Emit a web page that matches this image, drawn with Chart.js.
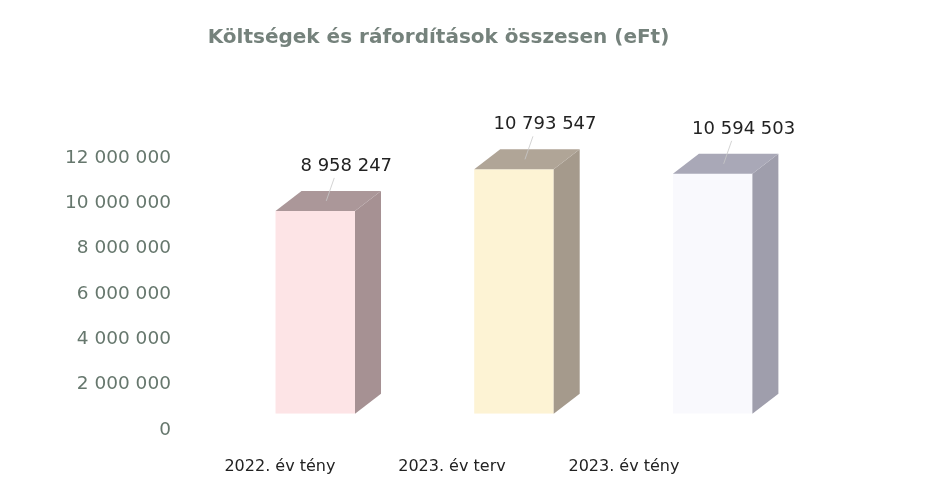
<!DOCTYPE html>
<html>
<head>
<meta charset="utf-8">
<script src="https://cdn.jsdelivr.net/npm/chart.js@4"></script>
<style>
  body { margin: 0; background: #fff; }
  #wrap { width: 931px; height: 493px; }
</style>
</head>
<body>
<div id="wrap"><canvas id="myChart"></canvas></div>
<script>
const categories = ["2022. év tény", "2023. év terv", "2023. év tény"];
const values = [8958247, 10793547, 10594503];
const yTickValues = [0, 2000000, 4000000, 6000000, 8000000, 10000000, 12000000];

const frontColors = ["#fde4e6", "#fdf3d4", "#f9f9fd"];
const sideColors = ["#a69193", "#a59a8c", "#9f9eac"];
const topColors = ["#ab9799", "#b0a597", "#a9a8b7"];

const fmt = (n) => String(n).replace(/\B(?=(\d{3})+(?!\d))/g, " ");

// draws the side and top faces of each bar, plus the value labels
const bars3d = {
  id: "bars3d",
  afterDatasetsDraw(chart) {
    const ctx = chart.ctx;
    const meta = chart.getDatasetMeta(0);
    const dx = 26, dy = 20;
    meta.data.forEach((bar, i) => {
      const half = bar.width / 2;
      const l = bar.x - half, r = bar.x + half, t = bar.y, b = bar.base;
      ctx.save();
      ctx.fillStyle = sideColors[i];
      ctx.beginPath();
      ctx.moveTo(r, t);
      ctx.lineTo(r + dx, t - dy);
      ctx.lineTo(r + dx, b - dy);
      ctx.lineTo(r, b);
      ctx.closePath();
      ctx.fill();
      ctx.fillStyle = topColors[i];
      ctx.beginPath();
      ctx.moveTo(l, t);
      ctx.lineTo(l + dx, t - dy);
      ctx.lineTo(r + dx, t - dy);
      ctx.lineTo(r, t);
      ctx.closePath();
      ctx.fill();

      // leader line + label
      const lx = bar.x + dx / 2 + 18;
      const ly = t - dy - 25;
      ctx.strokeStyle = "rgba(200,200,200,0.8)";
      ctx.lineWidth = 1;
      ctx.beginPath();
      ctx.moveTo(lx - 12, ly + 12);
      ctx.lineTo(lx - 20, t - dy / 2);
      ctx.stroke();
      ctx.fillStyle = "#222";
      ctx.font = "18px 'DejaVu Sans'";
      ctx.textAlign = "center";
      ctx.textBaseline = "middle";
      ctx.fillText(fmt(values[i]), lx, ly);
      ctx.restore();
    });
  },
};

new Chart(document.getElementById("myChart").getContext("2d"), {
  type: "bar",
  data: {
    labels: categories,
    datasets: [
      {
        data: values,
        backgroundColor: frontColors,
        borderWidth: 0,
        barPercentage: 0.4,
        categoryPercentage: 1,
      },
    ],
  },
  options: {
    responsive: true,
    maintainAspectRatio: false,
    animation: false,
    layout: { padding: { left: 65, right: 119, top: 0, bottom: 17 } },
    plugins: {
      legend: { display: false },
      tooltip: { enabled: false },
      title: {
        display: true,
        text: "Költségek és ráfordítások összesen (eFt)",
        color: "#75827c",
        font: { family: "'DejaVu Sans'", size: 20, weight: "bold" },
        padding: { top: 26, bottom: 92 },
      },
    },
    scales: {
      x: {
        display: false,
        offset: true,
      },
      xl: {
        type: "linear",
        position: "bottom",
        offset: false,
        min: -0.372,
        max: 3.093,
        grid: { display: false, drawTicks: false },
        border: { display: false },
        afterBuildTicks: (axis) => {
          axis.ticks = categories.map((c, i) => ({ value: i }));
        },
        // tick padding gets counted twice in the fit, take one back
        afterFit: (axis) => {
          axis.height -= axis.options.ticks.padding;
        },
        ticks: {
          color: "#222",
          font: { family: "'DejaVu Sans'", size: 16 },
          padding: 43,
          maxRotation: 0,
          autoSkip: false,
          callback: (v) => categories[v],
        },
      },
      y: {
        min: 0,
        max: 12000000,
        grid: { display: false, drawTicks: false },
        border: { display: false },
        afterBuildTicks: (axis) => {
          axis.ticks = yTickValues.map((v) => ({ value: v }));
        },
        afterFit: (axis) => {
          axis.width -= axis.options.ticks.padding;
        },
        ticks: {
          color: "#66776d",
          font: { family: "'DejaVu Sans'", size: 18.5 },
          padding: 45,
          labelOffset: 16,
          callback: (v) => fmt(v),
        },
      },
    },
  },
  plugins: [bars3d],
});
</script>
</body>
</html>
